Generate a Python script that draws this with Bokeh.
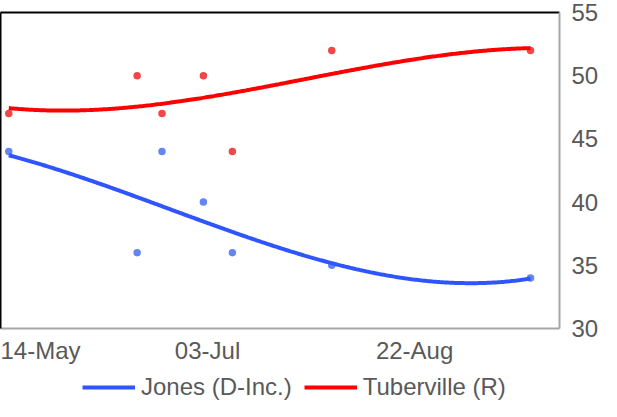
import numpy as np
import pandas as pd
from bokeh.plotting import figure
from bokeh.layouts import column
from bokeh.models import (Range1d, FixedTicker, DatetimeTickFormatter, Legend,
                          LegendItem, ColumnDataSource, LinearAxis)
from bokeh.embed import file_html
from bokeh.resources import INLINE

# ---- data ----
poll_dates = ["2020-05-16", "2020-06-16", "2020-06-22", "2020-07-02",
              "2020-07-09", "2020-08-02", "2020-09-19"]
jones = [44, 36, 44, 40, 36, 35, 34]
tuberville = [47, 50, 47, 50, 44, 52, 52]
series_names = ["Jones (D-Inc.)", "Tuberville (R)"]
tick_dates = ["2020-05-14", "2020-07-03", "2020-08-22"]
y_ticks = [30, 35, 40, 45, 50, 55]
x_start, x_end = "2020-05-14", "2020-09-26"

dates = pd.to_datetime(poll_dates)
days = (dates - dates[0]).days.values.astype(float)

def trend(vals, deg=3):
    coef = np.polyfit(days, np.array(vals, dtype=float), deg)
    xs = np.linspace(days[0], days[-1], 300)
    return dates[0] + pd.to_timedelta(xs, unit="D"), np.polyval(coef, xs)

FONT = "Liberation Sans"
TXT = "#595959"
BLUE, RED = "#2E55FF", "#FF0000"
BLUE_PT, RED_PT = "#6585F5", "#F04848"

p = figure(width=601, height=366, x_axis_type="datetime", y_axis_location="right",
           output_backend="svg", toolbar_location=None,
           x_range=Range1d(pd.Timestamp(x_start), pd.Timestamp(x_end)),
           y_range=Range1d(30, 55),
           min_border_left=0, min_border_top=12, min_border_right=0,
           min_border_bottom=0)
p.xgrid.visible = False
p.ygrid.visible = False
p.outline_line_color = None

src = ColumnDataSource(dict(d=dates, jones=jones, tub=tuberville))
p.scatter("d", "tub", source=src, size=7.5, color=RED_PT, line_color=None)
p.scatter("d", "jones", source=src, size=7.5, color=BLUE_PT, line_color=None)

bx, by = trend(jones)
rx, ry = trend(tuberville)
p.line(bx, by, line_color=BLUE, line_width=4)
p.line(rx, ry, line_color=RED, line_width=4)

# axes
xa = p.xaxis[0]
xa.ticker = FixedTicker(ticks=[pd.Timestamp(t).value / 1e6 for t in tick_dates])
fmt = "%d-%b"
xa.formatter = DatetimeTickFormatter(milliseconds=fmt, seconds=fmt, minsec=fmt, minutes=fmt,
                                     hourmin=fmt, hours=fmt, days=fmt, months=fmt, years=fmt)
ya = p.yaxis[0]
ya.ticker = FixedTicker(ticks=y_ticks)
for ax in (xa, ya):
    ax.major_tick_line_color = None
    ax.minor_tick_line_color = None
    ax.major_tick_out = 0
    ax.major_tick_in = 0
    ax.axis_line_color = "#A6A6A6"
    ax.axis_line_width = 2
    ax.major_label_text_font = FONT
    ax.major_label_text_font_size = "24px"
    ax.major_label_text_color = TXT
xa.major_label_standoff = 8
ya.major_label_standoff = 12

# black left / top borders of the plot area
for loc in ("left", "above"):
    b = LinearAxis(ticker=FixedTicker(ticks=[]), axis_line_color="black", axis_line_width=2,
                   major_tick_out=0, major_tick_in=0, minor_tick_out=0, minor_tick_in=0,
                   major_label_standoff=0, major_label_text_font_size="0px")
    p.add_layout(b, loc)

# legend strip below the chart (its proxy lines lie outside the strip's ranges)
pl = figure(width=601, height=35, output_backend="svg", toolbar_location=None,
            x_range=Range1d(0, 1), y_range=Range1d(0, 1),
            min_border_left=0, min_border_top=0, min_border_right=0, min_border_bottom=0)
pl.axis.visible = False
pl.grid.visible = False
pl.outline_line_color = None
gb = pl.line([-5, -4], [-5, -4], line_color=BLUE, line_width=4)
gr = pl.line([-5, -4], [-5, -4], line_color=RED, line_width=4)
legend = Legend(items=[LegendItem(label=series_names[0], renderers=[gb]),
                       LegendItem(label=series_names[1], renderers=[gr])],
                orientation="horizontal", location=(82, 0),
                border_line_color=None, background_fill_alpha=0,
                label_text_font=FONT, label_text_font_size="24px",
                label_text_color=TXT, glyph_width=53, glyph_height=24,
                label_height=24, label_standoff=6, spacing=12, padding=0, margin=0)
pl.add_layout(legend, "center")

open("out.html", "w").write(file_html(column(p, pl, spacing=0), INLINE))
